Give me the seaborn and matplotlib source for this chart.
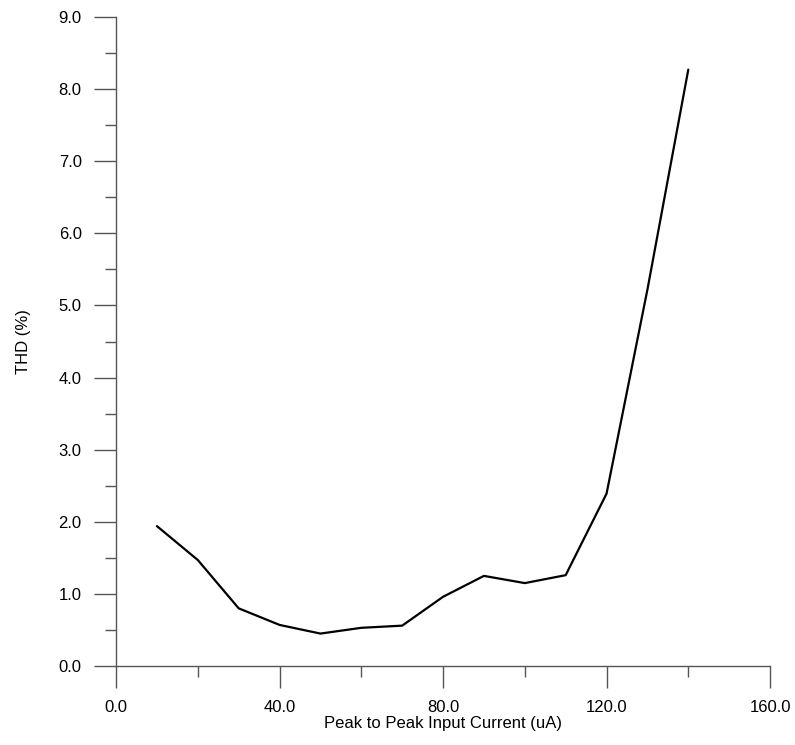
import numpy as np
import pandas as pd
import matplotlib
matplotlib.use("Agg")
import matplotlib.pyplot as plt
import seaborn as sns
from matplotlib.ticker import MultipleLocator, FormatStrFormatter

# данные
current = [10, 20, 30, 40, 50, 60, 70, 80, 90, 100, 110, 120, 130, 140]
thd = [1.94, 1.47, 0.80, 0.57, 0.45, 0.53, 0.56, 0.96, 1.25, 1.15, 1.26, 2.39, 5.22, 8.27]

df = pd.DataFrame({"current": current, "thd": thd})

sns.set_style("ticks")
plt.rcParams['font.family'] = ['Liberation Sans', 'DejaVu Sans']
plt.rcParams['text.color'] = 'black'
plt.rcParams['axes.labelcolor'] = 'black'

fig = plt.figure(figsize=(7.95, 7.45), dpi=100)
ax = fig.add_axes([0.146, 0.1060, 0.8226, 0.8712])

sns.lineplot(data=df, x="current", y="thd", color="black", linewidth=1.6, ax=ax)

ax.set_xlim(0, 160)
ax.set_ylim(0, 9)
ax.xaxis.set_major_locator(MultipleLocator(40))
ax.xaxis.set_minor_locator(MultipleLocator(20))
ax.yaxis.set_major_locator(MultipleLocator(1))
ax.yaxis.set_minor_locator(MultipleLocator(0.5))
ax.xaxis.set_major_formatter(FormatStrFormatter('%.1f'))
ax.yaxis.set_major_formatter(FormatStrFormatter('%.1f'))

gray = "#555555"
for s in ["top", "right"]:
    ax.spines[s].set_visible(False)
for s in ["left", "bottom"]:
    ax.spines[s].set_color(gray)
    ax.spines[s].set_linewidth(1.0)

ax.tick_params(which="major", length=15.8, width=1.0, color=gray, labelsize=12, labelcolor="black")
ax.tick_params(which="minor", length=7.9, width=1.0, color=gray)
ax.tick_params(axis="x", which="major", pad=8.5)
ax.tick_params(axis="y", which="major", pad=9)

ax.set_xlabel("Peak to Peak Input Current (uA)", fontsize=12, labelpad=1)
ax.set_ylabel("THD (%)", fontsize=12, labelpad=20)

fig.savefig("out.png", dpi=100)
